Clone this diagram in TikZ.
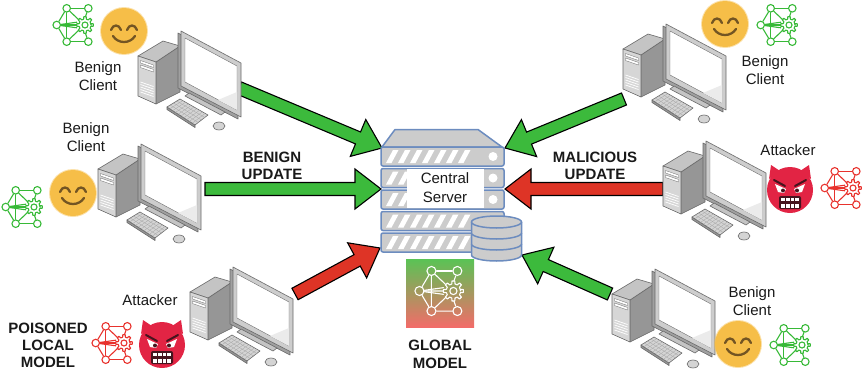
\documentclass[tikz,border=0pt]{standalone}
\usepackage{fontspec}
\setmainfont{Liberation Sans}
\usetikzlibrary{calc}

\definecolor{icongreen}{RGB}{55,185,55}
\definecolor{iconred}{RGB}{232,50,45}
\definecolor{arrgreen}{RGB}{60,186,60}
\definecolor{arrred}{RGB}{222,52,38}
\definecolor{srvedge}{RGB}{108,140,191}
\definecolor{srvgray}{RGB}{204,204,204}
\definecolor{gmtop}{RGB}{90,195,85}
\definecolor{gmbot}{RGB}{242,108,105}
\definecolor{smile}{RGB}{246,190,72}
\definecolor{smilefeat}{RGB}{115,85,35}
\definecolor{devil}{RGB}{226,36,68}
\definecolor{devdark}{RGB}{70,20,30}
\definecolor{pcedge}{RGB}{105,105,105}
\definecolor{pctop}{RGB}{196,196,196}
\definecolor{pcfront}{RGB}{214,214,214}
\definecolor{pcside}{RGB}{150,150,150}
\definecolor{pcback}{RGB}{160,160,160}
\definecolor{pcframe}{RGB}{205,205,205}
\definecolor{pckey}{RGB}{212,212,212}

% block arrow from tail (#1) to tip (#2), filled with #3
\newcommand\blockarrow[3]{%
  \coordinate (bh) at ($(#2)!26pt!(#1)$);
  \draw[arrowline, fill=#3]
    ($(#1)!6.5pt!90:(#2)$) -- ($(bh)!6.5pt!90:(#2)$) -- ($(bh)!20pt!90:(#2)$)
    -- (#2) -- ($(bh)!20pt!-90:(#2)$) -- ($(bh)!6.5pt!-90:(#2)$)
    -- ($(#1)!6.5pt!-90:(#2)$) -- cycle;}

\tikzset{
  arrowline/.style={draw=black, line width=1.1pt, line join=miter},
  lbl/.style={font=\fontsize{15}{18}\selectfont, align=center, inner sep=0pt, text=black!90},
  blbl/.style={font=\fontsize{15}{17.5}\selectfont\bfseries, align=center, inner sep=0pt, text=black!90},
  srvunit/.style={draw=srvedge, fill=srvgray, line width=1.5pt},
  nc/.style={circle, draw=#1, line width=1.1pt, minimum size=7.5pt, inner sep=0pt},
  % desktop computer: tower, monitor, stand, keyboard, mouse
  pics/computer/.style={code={
    \begin{scope}[draw=pcedge, line width=0.6pt, line join=round]
      \filldraw[fill=pcside] (18,32) -- (42,16) -- (42,62) -- (18,74) -- cycle;
      \filldraw[fill=pctop] (0,26) -- (18,32) -- (42,16) -- (25,11) -- cycle;
      \filldraw[fill=pcfront] (0,26) -- (18,32) -- (18,74) -- (0,66) -- cycle;
      \filldraw[fill=white, line width=0.3pt] (2.5,30.5) -- (15.5,35) -- (15.5,37.5) -- (2.5,33) -- cycle;
      \filldraw[fill=white, line width=0.3pt] (2.5,35) -- (15.5,39.5) -- (15.5,42) -- (2.5,37.5) -- cycle;
      \foreach \v in {52,54.5,57,59.5,62} \draw[white, line width=0.7pt] (2.5,\v) -- (15.5,\v+4.5);
      \filldraw[fill=pcback] (40,3) -- (100,35) -- (100,89) -- (40,58) -- cycle;
      \filldraw[fill=pcframe] (43,1) -- (103,33) -- (103,87) -- (43,56) -- cycle;
      \filldraw[fill=white, line width=0.4pt] (47,8) -- (99,36) -- (99,80) -- (47,52) -- cycle;
      \fill[black!8] (99,62) -- (99,80) -- (80,70) -- cycle;
      \filldraw[fill=pctop] (47,66) -- (51,63) -- (87,82) -- (83,85) -- cycle;
      \filldraw[fill=pcside] (29,77) -- (57,95) -- (57,97.5) -- (29,79.5) -- cycle;
      \filldraw[fill=pckey] (29,77) -- (42,69) -- (70,85) -- (57,95) -- cycle;
      \foreach \t in {0.25,0.5,0.75}
        \draw[pcedge!60, line width=0.3pt] ($(29,77)!\t!(42,69)$) -- ($(57,95)!\t!(70,85)$);
      \foreach \s in {0.1,0.2,0.3,0.4,0.5,0.6,0.7,0.8,0.9}
        \draw[pcedge!60, line width=0.3pt] ($(29,77)!\s!(57,95)$) -- ($(42,69)!\s!(70,85)$);
      \filldraw[fill=pckey] (81,96) ellipse[x radius=6pt, y radius=4pt];
    \end{scope}
  }},
  % neural network with a gear, drawn in colour #1
  pics/netico/.style={code={
    \begin{scope}[draw=#1, line width=1.1pt, line cap=round]
      \node[nc=#1] (-tl) at (13.7,3.3) {};
      \node[nc=#1] (-tr) at (35.3,3.3) {};
      \node[nc=#1] (-l)  at (3.7,20) {};
      \node[nc=#1] (-bl) at (13.7,36.7) {};
      \node[nc=#1] (-br) at (35.3,36.7) {};
      \draw (-l) -- (-tl);
      \draw (-l) -- (-bl);
      \draw (-tl) -- (-tr);
      \draw (-bl) -- (-br);
      \draw (-tl) -- (-bl);
      \draw (-tl) -- (25.5,14.5);
      \draw (-bl) -- (25.5,25.5);
      \draw (-tr) -- (32.5,11.6);
      \draw (-br) -- (32.5,28.4);
      \draw (-l) -- (23.8,17.2);
      \draw (-l) -- (23.8,20);
      \draw (-l) -- (23.8,22.8);
      \begin{scope}[shift={(32,20)}]
        \draw[line join=round] (0:6) \foreach \a in {0,45,...,315}
          { -- ({\a-13}:6) -- ({\a-8}:8.4) -- ({\a+8}:8.4) -- ({\a+13}:6) } -- cycle;
        \draw (0,0) circle[radius=3pt];
      \end{scope}
    \end{scope}
  }},
  pics/smiley/.style={code={
    \fill[smile, opacity=0.45] (0,0) circle[radius=24pt];
    \fill[smile] (0,0) circle[radius=23pt];
    \begin{scope}[draw=smilefeat, line width=2.3pt, line cap=round]
      \draw (-13,-1) .. controls (-11,-7) and (-5,-7) .. (-3,-1);
      \draw (3,-1) .. controls (5,-7) and (11,-7) .. (13,-1);
      \draw (-11,5) .. controls (-6,13) and (6,13) .. (11,5);
    \end{scope}
  }},
  pics/devil/.style={code={
    \fill[devil] (-21,-11) -- (-19,-25) -- (-10,-19) -- cycle;
    \fill[devil] (21,-11) -- (19,-25) -- (10,-19) -- cycle;
    \fill[devil] (0,0) circle[radius=23pt];
    \draw[devdark, line width=2pt, line cap=round] (-16,-10) -- (-5,-4);
    \draw[devdark, line width=2pt, line cap=round] (16,-10) -- (5,-4);
    \fill[white] (-15,-6) -- (-4,-1) -- (-6,3) -- (-12,2) -- cycle;
    \fill[white] (15,-6) -- (4,-1) -- (6,3) -- (12,2) -- cycle;
    \fill[devdark] (-7,0.5) circle[radius=2pt];
    \fill[devdark] (7,0.5) circle[radius=2pt];
    \fill[devdark, rounded corners=2pt] (-11,6) rectangle (11,19);
    \fill[white] (-9,7.5) rectangle (9,11);
    \fill[white] (-9,14) rectangle (9,17.5);
    \foreach \tx in {-4.5,0,4.5} \draw[devdark, line width=0.8pt] (\tx,7) -- (\tx,18);
  }}
}

\begin{document}
\begin{tikzpicture}[x=1pt, y=-1pt]
\useasboundingbox (0,0) rectangle (862,375);

% update arrows (tail at a client, tip at the server)
\coordinate (tA) at (239,88);  \coordinate (hA) at (382,148);
\coordinate (tB) at (205,189); \coordinate (hB) at (381,189);
\coordinate (tC) at (295,294); \coordinate (hC) at (380,248);
\coordinate (tD) at (624,99);  \coordinate (hD) at (505,148);
\coordinate (tE) at (663,189); \coordinate (hE) at (505,189);
\coordinate (tF) at (610,294); \coordinate (hF) at (522,255);
\blockarrow{tA}{hA}{arrgreen}
\blockarrow{tB}{hB}{arrgreen}
\blockarrow{tC}{hC}{arrred}
\blockarrow{tD}{hD}{arrgreen}
\blockarrow{tE}{hE}{arrred}
\blockarrow{tF}{hF}{arrgreen}

% server rack
\draw[srvunit, line join=round] (382,147) -- (395,129.5) -- (478,129.5) -- (502,147) -- cycle;
\foreach \yt in {147,168.5,190,211.5,233} {
  \draw[srvunit, rounded corners=2pt] (381,\yt) rectangle (504,\yt+19);
  \foreach \k in {0,...,6}
    \fill[white] (386+12*\k,\yt+16) -- (391.5+12*\k,\yt+16) -- (398.5+12*\k,\yt+3) -- (393+12*\k,\yt+3) -- cycle;
  \fill[white] (493,\yt+9.5) circle[radius=4.5pt];
}
\node[fill=white, minimum width=77pt, minimum height=39pt, inner sep=0pt, lbl,
      font=\fontsize{15}{19}\selectfont] (server) at (445,188) {Central\\Server};

% database
\foreach \yt in {244,233,222}
  \draw[srvunit] (471.5,\yt) -- (471.5,\yt+11) arc[start angle=180, end angle=360, x radius=25pt, y radius=6pt] -- (521.5,\yt);
\draw[srvunit] (496.5,222) ellipse[x radius=25pt, y radius=6pt];

% global model
\node[top color=gmtop, bottom color=gmbot, minimum width=68pt, minimum height=68pt, inner sep=0pt] (gm) at (440,293) {};
\pic[scale=1.2, transform shape] (gmi) at (415,267) {netico=white};
\node[blbl, font=\fontsize{15}{18}\selectfont\bfseries] (gmlbl) at (440,354) {GLOBAL\\MODEL};

% clients
\pic at (138,30) {computer};
\pic at (98,143) {computer};
\pic at (190,266) {computer};
\pic at (623,23) {computer};
\pic at (663,140) {computer};
\pic at (612,268) {computer};

% local models
\pic (g1) at (53,5) {netico=icongreen};
\pic (g2) at (2,187) {netico=icongreen};
\pic (r1) at (92,323) {netico=iconred};
\pic (g3) at (757,5) {netico=icongreen};
\pic (r2) at (821,168) {netico=iconred};
\pic (g4) at (770,325) {netico=icongreen};

% faces
\pic at (124,31) {smiley};
\pic at (73,193) {smiley};
\pic at (725,24) {smiley};
\pic at (738,344) {smiley};
\pic at (790,190) {devil};
\pic at (162,345) {devil};

% labels
\node[lbl] (c1) at (98,76) {Benign\\Client};
\node[lbl] (c2) at (86,137) {Benign\\Client};
\node[lbl] (c3) at (765,70) {Benign\\Client};
\node[lbl] (c4) at (752,301) {Benign\\Client};
\node[lbl] (a1) at (788,150) {Attacker};
\node[lbl] (a2) at (150,300) {Attacker};
\node[blbl] (bu) at (272,166) {BENIGN\\UPDATE};
\node[blbl] (mu) at (595,166) {MALICIOUS\\UPDATE};
\node[blbl, font=\fontsize{15}{17}\selectfont\bfseries] (plm) at (48,345) {POISONED\\LOCAL\\MODEL};
\end{tikzpicture}
\end{document}
